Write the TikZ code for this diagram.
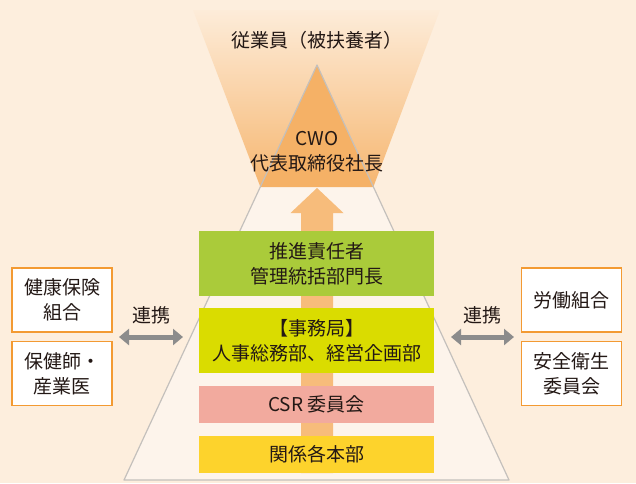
\documentclass[tikz,border=0pt]{standalone}
\usepackage{fontspec}
\setmainfont{Noto Sans CJK JP}
\usetikzlibrary{arrows.meta}
\definecolor{bg}{HTML}{FDEEDD}
\definecolor{funtop}{HTML}{FDECD9}
\definecolor{funbot}{HTML}{F6B670}
\definecolor{pyrlight}{HTML}{FDF4EB}
\definecolor{pyrtop}{HTML}{F5B166}
\definecolor{edgegray}{HTML}{C4C0BC}
\definecolor{arrowor}{HTML}{F7BC7B}
\definecolor{boxgreen}{HTML}{AACB3A}
\definecolor{boxlime}{HTML}{DADC00}
\definecolor{boxpink}{HTML}{F2AA9E}
\definecolor{boxyellow}{HTML}{FDD32C}
\definecolor{sideor}{HTML}{F39A32}
\definecolor{linkgray}{HTML}{8C8C8C}
\definecolor{txt}{HTML}{231815}
\tikzset{
  lbl/.style={text=txt, font=\fontsize{19}{25}\selectfont, align=center, inner sep=0pt},
  tier/.style={lbl, minimum width=235pt, inner sep=0pt},
  sidebox/.style={lbl, draw=sideor, line width=1.5pt, fill=white, minimum width=100pt, minimum height=64pt},
  link/.style={draw=linkgray, line width=5pt, {Triangle[length=10pt,width=16pt]}-{Triangle[length=10pt,width=16pt]}, shorten <=0pt, shorten >=0pt}
}
\begin{document}
\begin{tikzpicture}[x=1pt,y=-1pt]
\useasboundingbox (0,0) rectangle (636,483);
\fill[bg] (0,0) rectangle (636,483);
% funnel
\shade[top color=funtop, bottom color=funbot] (193,10) -- (440,10) -- (373.3,187) -- (260.4,187) -- cycle;
% pyramid
\fill[pyrlight] (260.4,187) -- (373.3,187) -- (509,480) -- (124,480) -- cycle;
\fill[pyrtop] (317,65) -- (260.4,187) -- (373.3,187) -- cycle;
\draw[edgegray, line width=1.2pt, line join=round] (317,65) -- (124,480) -- (509,480) -- cycle;
% upward arrow
\fill[arrowor] (317,188) -- (343.5,213) -- (333,213) -- (333,473) -- (301,473) -- (301,213) -- (290.5,213) -- cycle;
% titles
\node[lbl] (emp) at (317,40) {従業員（被扶養者）};
\node[lbl] (cwo) at (317,152) {CWO\\代表取締役社長};
% tiers
\node[tier, fill=boxgreen, minimum height=65pt] (t1) at (316.5,263.5) {推進責任者\\管理統括部門長};
\node[tier, fill=boxlime, minimum height=65pt] (t2) at (316.5,340.5) {【事務局】\\人事総務部、経営企画部};
\node[tier, fill=boxpink, minimum height=37pt] (t3) at (316.5,404.5) {CSR 委員会};
\node[tier, fill=boxyellow, minimum height=37pt] (t4) at (316.5,454.5) {関係各本部};
% side boxes
\node[sidebox] (l1) at (62,300) {健康保険\\組合};
\node[sidebox] (l2) at (62,373.5) {保健師・\\産業医};
\node[sidebox] (r1) at (571.5,300) {労働組合};
\node[sidebox] (r2) at (571.5,373.5) {安全衛生\\委員会};
% links
\coordinate (la) at (119,337);
\coordinate (lb) at (183,337);
\coordinate (ra) at (451,337);
\coordinate (rb) at (514,337);
\draw[link] (la) -- (lb);
\draw[link] (ra) -- (rb);
\node[lbl] (lt) at (151,315) {連携};
\node[lbl] (rt) at (482,315) {連携};
\end{tikzpicture}
\end{document}
